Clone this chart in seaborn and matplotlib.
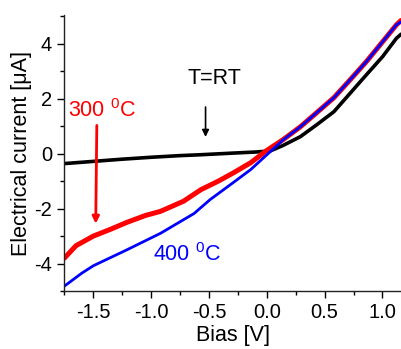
import numpy as np
import pandas as pd
import matplotlib
matplotlib.use("Agg")
import matplotlib.pyplot as plt
from matplotlib.ticker import MultipleLocator
import seaborn as sns

# Data
bias_rt = [-1.75, -1.5, -1.25, -1.0, -0.75, -0.58, -0.3, -0.1, 0.03, 0.14, 0.29, 0.43, 0.58, 0.72, 0.86, 1.0, 1.12, 1.16]
cur_rt = [-0.36, -0.28, -0.2, -0.13, -0.07, -0.04, 0.02, 0.06, 0.1, 0.3, 0.62, 1.05, 1.53, 2.2, 2.87, 3.53, 4.2, 4.35]

bias_300 = [-1.75, -1.65, -1.5, -1.35, -1.21, -1.05, -0.92, -0.72, -0.57, -0.42, -0.29, -0.14, 0.0, 0.14, 0.29, 0.43, 0.58, 0.72, 0.86, 1.0, 1.12, 1.16]
cur_300 = [-3.8, -3.35, -3.0, -2.75, -2.5, -2.25, -2.1, -1.73, -1.31, -1.0, -0.7, -0.33, 0.12, 0.51, 0.98, 1.49, 2.04, 2.69, 3.35, 4.07, 4.69, 4.85]

bias_400 = [-1.75, -1.6, -1.5, -1.21, -0.92, -0.63, -0.49, -0.29, -0.14, 0.0, 0.14, 0.29, 0.43, 0.58, 0.72, 0.86, 1.0, 1.12, 1.16]
cur_400 = [-4.82, -4.35, -4.08, -3.5, -2.9, -2.18, -1.67, -1.05, -0.58, -0.04, 0.5, 0.98, 1.49, 2.04, 2.69, 3.35, 4.07, 4.69, 4.8]

sns.set_style("ticks")
plt.rcParams['font.family'] = ['Liberation Sans', 'DejaVu Sans']
plt.rcParams['mathtext.fontset'] = 'custom'
plt.rcParams['mathtext.rm'] = 'Liberation Sans'
plt.rcParams['mathtext.it'] = 'Liberation Sans'
plt.rcParams['mathtext.default'] = 'regular'
plt.rcParams['text.color'] = 'black'
plt.rcParams['axes.labelcolor'] = 'black'
plt.rcParams['xtick.color'] = 'black'
plt.rcParams['ytick.color'] = 'black'

fig = plt.figure(figsize=(4.01, 3.49), dpi=100)
ax = fig.add_axes([64/401, 1 - 291/349, 1 - 64/401, (291 - 15)/349])

df_rt = pd.DataFrame({"bias": bias_rt, "cur": cur_rt})
df_300 = pd.DataFrame({"bias": bias_300, "cur": cur_300})
df_400 = pd.DataFrame({"bias": bias_400, "cur": cur_400})

sns.lineplot(data=df_rt, x="bias", y="cur", ax=ax, color="black", lw=2.6, sort=False, estimator=None,
             solid_joinstyle='round')
sns.lineplot(data=df_300, x="bias", y="cur", ax=ax, color="#ff0000", lw=3.6, sort=False, estimator=None,
             solid_joinstyle='round')
sns.lineplot(data=df_400, x="bias", y="cur", ax=ax, color="#0000ff", lw=2.0, sort=False, estimator=None,
             solid_joinstyle='round')

ax.set_xlim(-1.754, 1.16)
ax.set_ylim(-5.0, 5.05)
ax.xaxis.set_minor_locator(MultipleLocator(0.25))
ax.yaxis.set_minor_locator(MultipleLocator(1))
ax.tick_params(which='major', direction='out', length=5, width=1, labelsize=14.5, colors='black')
ax.tick_params(which='minor', direction='out', length=3, width=1, colors='black')
ax.set_xticks([-1.5, -1.0, -0.5, 0.0, 0.5, 1.0])
ax.set_xticklabels(["-1.5", "-1.0", "-0.5", "0.0", "0.5", "1.0"])
ax.set_yticks([-4, -2, 0, 2, 4])
ax.set_yticklabels(["-4", "-2", "0", "2", "4"])

for s in ['top', 'right']:
    ax.spines[s].set_visible(False)
for s in ['left', 'bottom']:
    ax.spines[s].set_linewidth(1)
    ax.spines[s].set_color('#222222')

ax.set_xlabel("Bias [V]", fontsize=15.5, labelpad=2, color='black')
ax.set_ylabel("Electrical current [\u03bcA]", fontsize=15.5, labelpad=2, color='black')

ax.text(-0.45, 2.75, "T=RT", fontsize=15.5, ha='center', va='center', color='black')
ax.annotate("", xy=(-0.53, 0.51), xytext=(-0.53, 1.8),
            arrowprops=dict(arrowstyle="-|>", color='black', lw=1.2, mutation_scale=10))
ax.text(-1.43, 1.56, r"300 $^{0}$C", fontsize=15.5, ha='center', va='center', color='#ff0000')
ax.annotate("", xy=(-1.48, -2.65), xytext=(-1.47, 1.13),
            arrowprops=dict(arrowstyle="-|>", color='#ff0000', lw=2, mutation_scale=10))
ax.text(-0.69, -3.67, r"400 $^{0}$C", fontsize=15.5, ha='center', va='center', color='#0000ff')

fig.savefig("out.png", dpi=100)
